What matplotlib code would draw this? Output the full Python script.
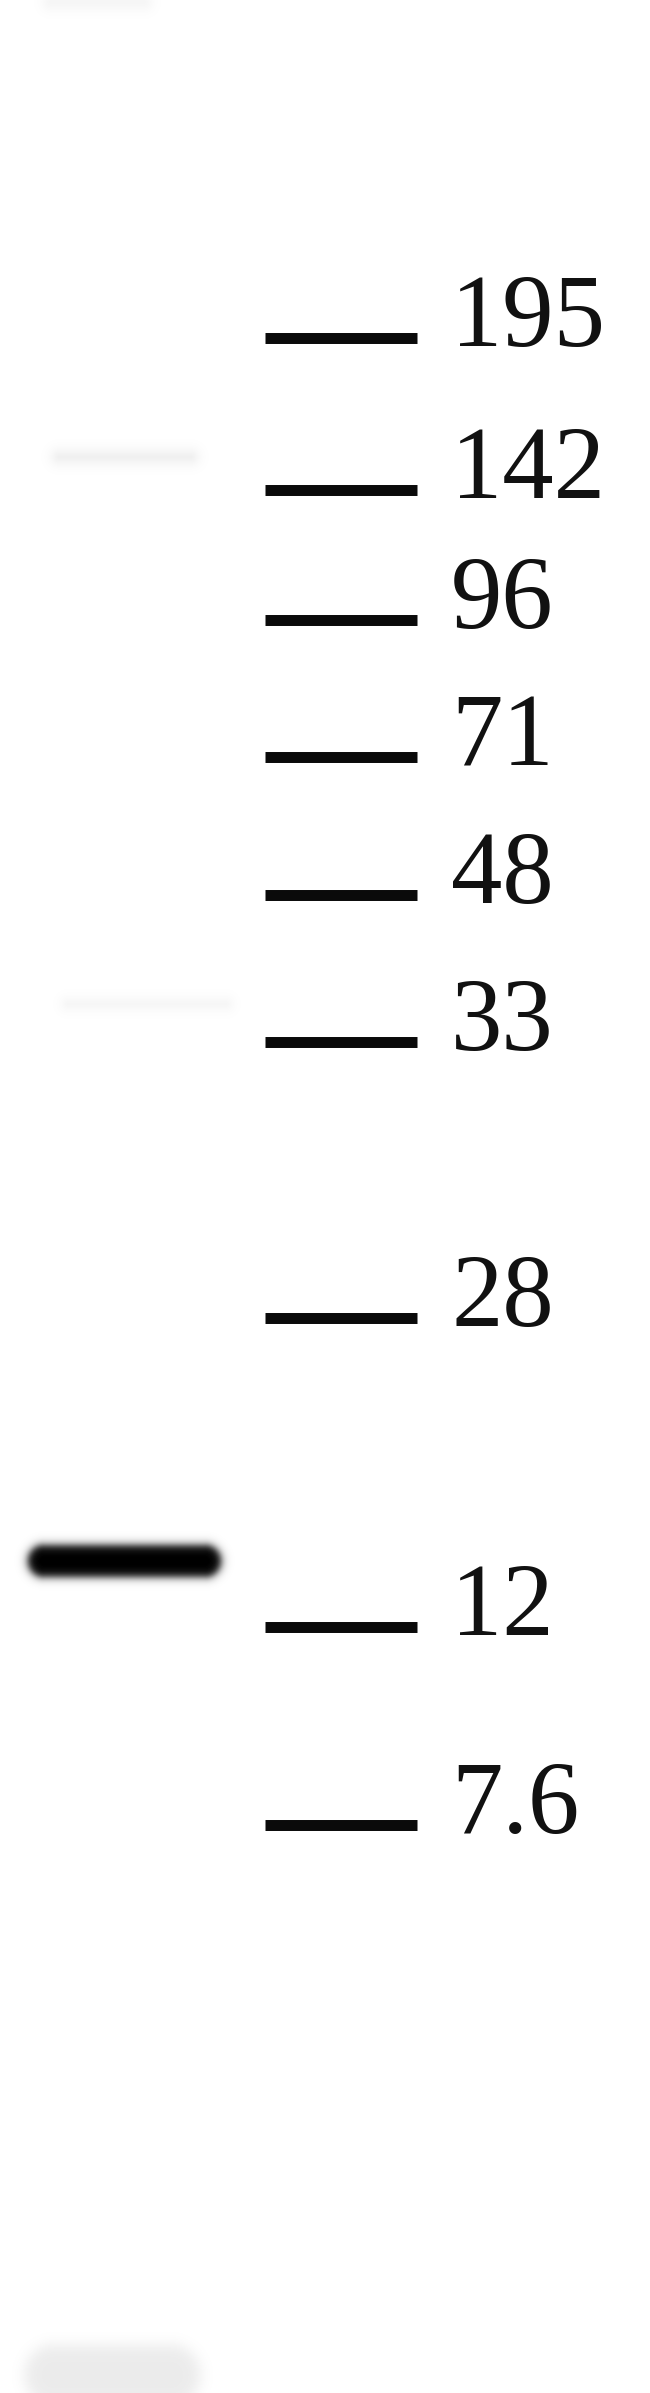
import numpy as np
import matplotlib
matplotlib.use("Agg")
import matplotlib.pyplot as plt

# Marker ladder (kDa) and where each marker line sits on the membrane (px from top)
marker_labels = ["195", "142", "96", "71", "48", "33", "28", "12", "7.6"]
marker_y = [338, 490, 620, 757, 895, 1042, 1318, 1627, 1825]

# Bands seen in the sample lane: vertical position, left/right ends, darkness (0..1)
band_y = [1561, 457, 1004, 2375, 2]
band_left = [28, 55, 65, 25, 45]
band_right = [221, 195, 229, 200, 150]
band_half_height = [16, 4, 3, 30, 6]
band_darkness = [1.0, 0.09, 0.06, 0.08, 0.05]

W, H = 650, 2393

fig = plt.figure(figsize=(W / 100, H / 100), dpi=100)
ax = fig.add_axes([0, 0, 1, 1])

# Build the blot lane as a greyscale image: soft capsule-shaped bands
xx, yy = np.meshgrid(np.arange(W) + 0.5, np.arange(H) + 0.5)
blot = np.zeros((H, W))
for y, x0, x1, r, a in zip(band_y, band_left, band_right, band_half_height, band_darkness):
    xc = (x0 + x1) / 2
    half_len = (x1 - x0) / 2 - r
    dx = np.maximum(np.abs(xx - xc) - half_len, 0)
    dist = np.sqrt(dx ** 2 + (yy - y) ** 2) - r
    soft = 5.0 if a > 0.5 else 9.0
    blot = np.maximum(blot, a * 0.5 * (1 - np.tanh(dist / soft)))

ax.imshow(blot, cmap="gray_r", vmin=0, vmax=1, extent=(0, W, H, 0),
          interpolation="bilinear", aspect="auto")

# Marker lines and their labels
ax.hlines(marker_y, 265, 417, colors="#0a0a0a", linewidth=7.9)
for lab, y in zip(marker_labels, marker_y):
    ax.text(451, y + 8, lab, fontsize=74, family="Liberation Serif",
            color="#111111", ha="left", va="baseline")

ax.set_xlim(0, W)
ax.set_ylim(H, 0)
ax.axis("off")

fig.savefig("out.png", dpi=100)
